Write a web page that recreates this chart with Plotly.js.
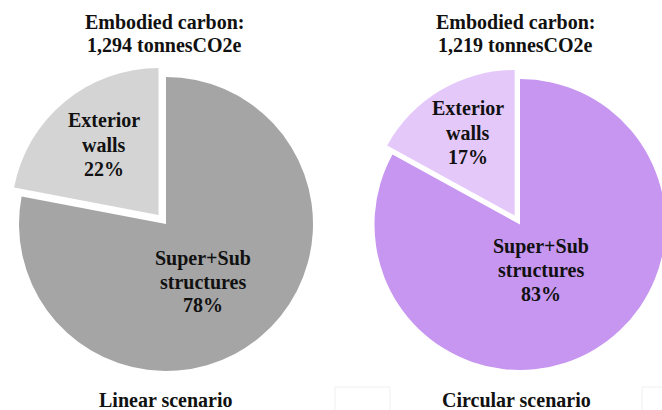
<!DOCTYPE html>
<html><head><meta charset="utf-8">
<script src="https://cdn.plot.ly/plotly-3.0.1.min.js"></script>
<style>html,body{margin:0;padding:0;overflow:hidden;background:#fff}#chart{width:680px;height:410px}</style>
</head><body><div id="chart"></div>
<script>
// ---- data ----
const categories = ['Exterior walls', 'Super+Sub structures'];
const linearValues = [22, 78];
const circularValues = [17, 83];
const scenarioNames = ['Linear scenario', 'Circular scenario'];
const totalCarbon = ['1,294', '1,219'];
const carbonUnit = 'tonnesCO2e';
const labelLines = [['Exterior', 'walls'], ['Super+Sub', 'structures']];

// ---- layout helpers ----
const W = 680, H = 410;
const px = x => x / W;
const py = y => 1 - y / H;
const FONT = {family: 'Liberation Serif', size: 20, color: '#111'};

function pieDomain(cx, cy, r, pull) {
  const half = r * (1 + pull);
  return {x: [px(cx - half), px(cx + half)], y: [py(cy + half), py(cy - half)]};
}

const pies = [
  {values: linearValues, colors: ['#d4d4d4', '#a5a5a5'], cx: 166, cy: 224, r: 147, pull: 0.08},
  {values: circularValues, colors: ['#e5c8fa', '#c796f1'], cx: 520, cy: 224.5, r: 145.5, pull: 0.072}
];

// first slice (exterior walls) must end at 12 o'clock, going clockwise
const traces = pies.map(p => {
  const total = p.values.reduce((a, b) => a + b, 0);
  return {
    type: 'pie',
    labels: categories,
    values: p.values,
    sort: false,
    direction: 'clockwise',
    rotation: -360 * p.values[0] / total,
    pull: [p.pull, 0],
    marker: {colors: p.colors, line: {width: 0}},
    textinfo: 'none',
    hoverinfo: 'none',
    showlegend: false,
    domain: pieDomain(p.cx, p.cy, p.r, p.pull)
  };
});

// label positions (pixels)
const titlePos = [{x: 164, y1: 22, y2: 45}, {x: 515, y1: 22, y2: 45}];
const slicePos = [
  [{x: 104, y: [120, 145, 169]}, {x: 203, y: [258, 282, 305]}],
  [{x: 468, y: [108, 133, 157]}, {x: 541, y: [246, 270, 294]}]
];
const scenarioPos = [{x: 166, y: 400}, {x: 516, y: 400}];

const annotations = [];
function addText(text, x, y) {
  annotations.push({text: '<b>' + text + '</b>', x: px(x), y: py(y), xref: 'paper', yref: 'paper',
    xanchor: 'center', yanchor: 'middle', showarrow: false, font: FONT});
}
pies.forEach((p, i) => {
  addText('Embodied carbon:', titlePos[i].x, titlePos[i].y1);
  addText(totalCarbon[i] + ' ' + carbonUnit, titlePos[i].x, titlePos[i].y2);
  categories.forEach((c, k) => {
    const pos = slicePos[i][k];
    addText(labelLines[k][0], pos.x, pos.y[0]);
    addText(labelLines[k][1], pos.x, pos.y[1]);
    addText(p.values[k] + '%', pos.x, pos.y[2]);
  });
  addText(scenarioNames[i], scenarioPos[i].x, scenarioPos[i].y);
});

const shapes = [
  {type: 'rect', xref: 'paper', yref: 'paper', x0: px(335), x1: px(390), y0: py(415), y1: py(387), line: {color: '#f0f0f0', width: 1}},
  {type: 'rect', xref: 'paper', yref: 'paper', x0: px(642), x1: px(700), y0: py(415), y1: py(387), line: {color: '#f0f0f0', width: 1}}
];

Plotly.newPlot('chart', traces, {
  width: W, height: H,
  margin: {l: 0, r: 0, t: 0, b: 0},
  paper_bgcolor: '#fff', plot_bgcolor: '#fff',
  annotations: annotations,
  shapes: shapes
}, {displayModeBar: false, staticPlot: true});
</script></body></html>
